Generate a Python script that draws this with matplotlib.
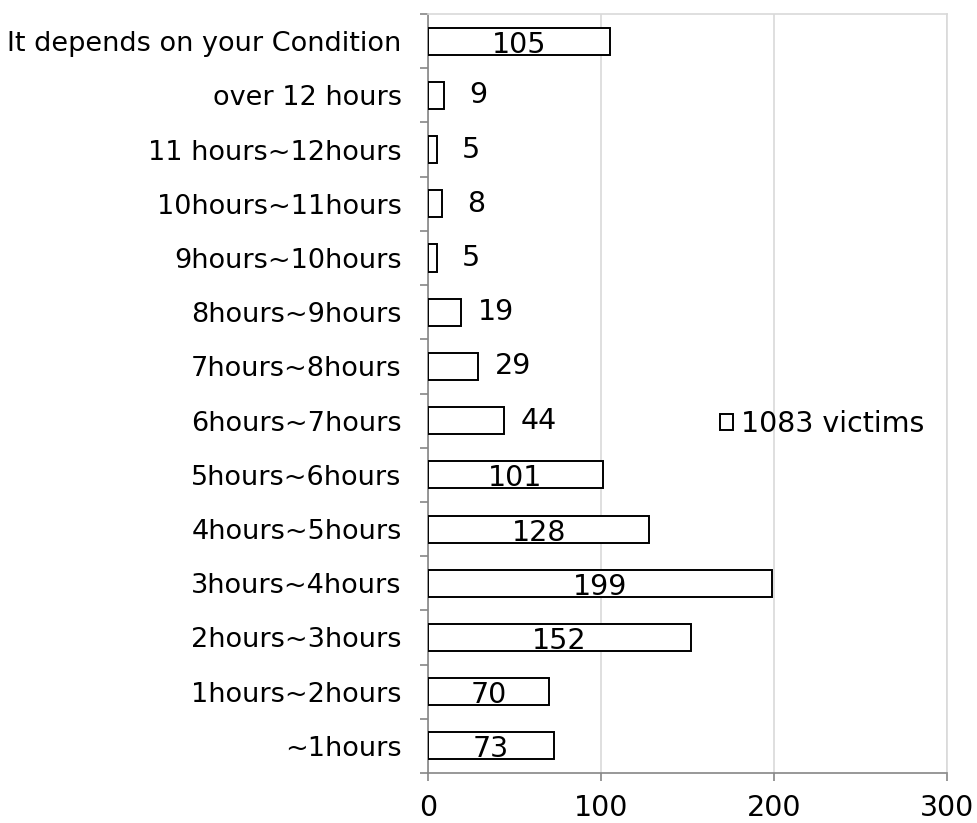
import matplotlib.pyplot as plt
import numpy as np

# categories from bottom to top
categories = ['~1hours', '1hours~2hours', '2hours~3hours', '3hours~4hours',
              '4hours~5hours', '5hours~6hours', '6hours~7hours', '7hours~8hours',
              '8hours~9hours', '9hours~10hours', '10hours~11hours',
              '11 hours~12hours', 'over 12 hours', 'It depends on your Condition']
victims = [73, 70, 152, 199, 128, 101, 44, 29, 19, 5, 8, 5, 9, 105]
series_name = '1083 victims'
x_ticks = [0, 100, 200, 300]

grid_col = '#d9d9d9'
axis_col = '#868686'
fs = 19.5

fig = plt.figure(figsize=(9.78, 8.23), dpi=100)
ax = fig.add_axes([0.4376, 0.0607, 0.9683 - 0.4376, 0.983 - 0.0607])

y = np.arange(len(categories))
bars = ax.barh(y, victims, height=0.5, color='white', edgecolor='black',
               linewidth=1.4, label=series_name, zorder=3)

for yi, v in zip(y, victims):
    if v >= 60:
        ax.annotate(str(v), (v / 2, yi - 0.25), xytext=(0, 1.5),
                    textcoords='offset points', ha='center', va='baseline',
                    fontsize=fs + 1, zorder=4)
    else:
        ax.annotate(str(v), (v, yi), xytext=(25, 0), textcoords='offset points',
                    ha='center', va='center', fontsize=fs + 1, zorder=4)

ax.set_xlim(0, 300)
ax.set_ylim(-0.5, len(categories) - 0.5)
ax.set_xticks(x_ticks)
ax.set_xticklabels([str(t) for t in x_ticks], fontsize=fs + 1)
ax.set_yticks(y)
ax.set_yticklabels(categories, fontsize=fs)
ax.set_yticks(np.arange(len(categories) + 1) - 0.5, minor=True)

ax.tick_params(axis='y', which='major', length=0, pad=19)
ax.tick_params(axis='y', which='minor', length=6, color=axis_col, width=1.2)
ax.tick_params(axis='x', which='major', length=6, color=axis_col, width=1.2, pad=9)

ax.grid(axis='x', color=grid_col, linewidth=1.2, zorder=0)
ax.set_axisbelow(True)
for side in ['left', 'bottom']:
    ax.spines[side].set_color(axis_col)
    ax.spines[side].set_linewidth(1.2)
for side in ['top', 'right']:
    ax.spines[side].set_color(grid_col)
    ax.spines[side].set_linewidth(1.2)

ax.legend(loc='center left', bbox_to_anchor=(720 / 978, 1 - 424 / 823),
          bbox_transform=fig.transFigure, frameon=False, fontsize=fs + 1,
          handlelength=0.45, handleheight=0.45, handletextpad=0.3,
          borderpad=0, borderaxespad=0)

fig.savefig('out.png', dpi=100)
